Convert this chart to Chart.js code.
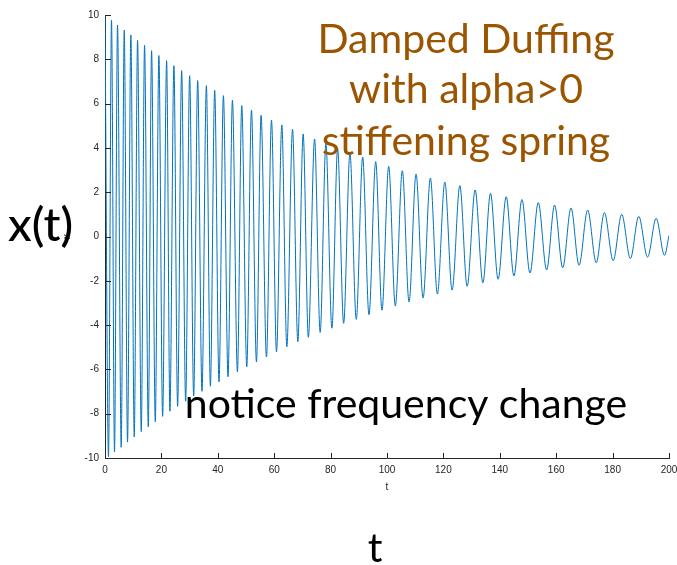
<!DOCTYPE html>
<html>
<head>
<meta charset="utf-8">
<script src="https://cdn.jsdelivr.net/npm/chart.js@4"></script>
<style>
  html, body { margin: 0; padding: 0; background: #fff; }
  canvas { display: block; }
</style>
</head>
<body>
<canvas id="chart" width="677" height="565"></canvas>
<script>
// --------------------------------------
// 1. Data
// --------------------------------------
// start / end of the trace
const startT = 0, startX = 10;
const endT = 200, endX = 0.04;

// local maxima (t, x)
const peakT = [2.31, 4.44, 6.82, 9.17, 11.55, 14.03, 16.52, 19.11, 21.85, 24.44,
  27.18, 30.02, 32.86, 35.95, 38.90, 41.99, 45.19, 48.49, 51.94, 55.35,
  59.04, 62.70, 66.50, 70.27, 74.32, 78.33, 82.49, 86.86, 91.37, 95.99,
  100.60, 105.44, 110.30, 115.38, 120.50, 125.83, 131.26, 136.70, 142.27, 147.85,
  153.64, 159.43, 165.26, 171.15, 177.09, 183.23, 189.27, 195.45];
const peakX = [9.77, 9.55, 9.32, 9.10, 8.86, 8.63, 8.39, 8.17, 7.94, 7.71,
  7.49, 7.26, 7.04, 6.81, 6.60, 6.36, 6.15, 5.91, 5.70, 5.47,
  5.26, 5.04, 4.84, 4.63, 4.40, 4.19, 3.98, 3.76, 3.58, 3.38,
  3.17, 2.97, 2.82, 2.64, 2.46, 2.30, 2.10, 1.95, 1.80, 1.67,
  1.53, 1.42, 1.29, 1.19, 1.08, 1.00, 0.91, 0.82];

// local minima (t, x)
const troughT = [1.24, 3.37, 5.75, 7.99, 10.37, 12.86, 15.35, 17.83, 20.43, 23.02,
  25.75, 28.60, 31.44, 34.39, 37.37, 40.43, 43.62, 46.96, 50.27, 53.71,
  57.26, 60.82, 64.48, 68.38, 72.11, 76.30, 80.46, 84.62, 89.10, 93.61,
  98.22, 102.95, 107.82, 112.79, 117.87, 123.09, 128.42, 134.0, 139.4, 145.0,
  150.7, 156.6, 162.3, 168.1, 174.2, 180.2, 186.3, 192.4, 198.4];
const troughX = [-9.94, -9.73, -9.52, -9.28, -9.05, -8.81, -8.59, -8.36, -8.12, -7.89,
  -7.67, -7.44, -7.20, -6.99, -6.76, -6.56, -6.33, -6.11, -5.88, -5.66,
  -5.44, -5.21, -4.98, -4.75, -4.55, -4.33, -4.14, -3.92, -3.74, -3.53,
  -3.33, -3.14, -2.96, -2.78, -2.60, -2.42, -2.25, -2.09, -1.93, -1.78,
  -1.65, -1.51, -1.41, -1.30, -1.18, -1.09, -1.00, -0.93, -0.85];

const xTicks = [0, 20, 40, 60, 80, 100, 120, 140, 160, 180, 200];
const yTicks = [-10, -8, -6, -4, -2, 0, 2, 4, 6, 8, 10];

const titleLines = ['Damped Duffing', 'with alpha>0', 'stiffening spring'];
const noteText = 'notice frequency change';

// --------------------------------------
// 2. Build the point list
// --------------------------------------
const points = [{ x: startT, y: startX }];
peakT.forEach((t, i) => points.push({ x: t, y: peakX[i] }));
troughT.forEach((t, i) => points.push({ x: t, y: troughX[i] }));
points.push({ x: endT, y: endX });
points.sort((a, b) => a.x - b.x);

const AXIS_COLOR = '#262626';
const BIG_FONT = '41px Lato, "Open Sans", sans-serif';

// --------------------------------------
// 3. Plugins: inward ticks and slide text
// --------------------------------------
const innerTicks = {
  id: 'innerTicks',
  afterDraw(chart) {
    const { ctx, chartArea: a, scales: { x, y } } = chart;
    ctx.save();
    ctx.strokeStyle = AXIS_COLOR;
    ctx.lineWidth = 1;
    ctx.beginPath();
    yTicks.forEach(v => {
      const py = Math.round(y.getPixelForValue(v)) + 0.5;
      ctx.moveTo(a.left, py);
      ctx.lineTo(a.left + 6, py);
    });
    xTicks.forEach(v => {
      const px = Math.round(x.getPixelForValue(v)) + 0.5;
      ctx.moveTo(px, a.bottom);
      ctx.lineTo(px, a.bottom - 5);
    });
    ctx.stroke();
    ctx.restore();
  }
};

const slideText = {
  id: 'slideText',
  afterDraw(chart) {
    const ctx = chart.ctx;
    ctx.save();
    ctx.font = BIG_FONT;
    ctx.textBaseline = 'alphabetic';

    ctx.fillStyle = '#9b5500';
    ctx.textAlign = 'center';
    ctx.fillText(titleLines[0], 466, 53);
    ctx.fillText(titleLines[1], 466, 103);
    ctx.fillText(titleLines[2], 466, 155);

    ctx.fillStyle = '#000';
    ctx.fillText(noteText, 406, 418);
    ctx.fillText('t', 375, 562);

    ctx.textAlign = 'left';
    ctx.font = '500 47px Lato, "Open Sans", sans-serif';
    ctx.fillText('x(t)', 8, 241);
    ctx.restore();
  }
};

// --------------------------------------
// 4. Chart
// --------------------------------------
const tickFont = { family: '"Liberation Sans", Arial, sans-serif', size: 10 };

new Chart(document.getElementById('chart').getContext('2d'), {
  type: 'line',
  data: {
    datasets: [{
      data: points,
      borderColor: '#0072bd',
      borderWidth: 1,
      pointRadius: 0,
      fill: false,
      cubicInterpolationMode: 'monotone'
    }]
  },
  options: {
    responsive: false,
    animation: false,
    events: [],
    layout: { padding: { left: 0, right: 8, top: 15, bottom: 67 } },
    plugins: { legend: { display: false }, tooltip: { enabled: false } },
    scales: {
      x: {
        type: 'linear',
        min: 0, max: 200,
        afterBuildTicks: s => { s.ticks = xTicks.map(v => ({ value: v })); },
        afterFit: s => { s.height = 40; s.paddingRight = 0; s.paddingLeft = 0; },
        ticks: { font: tickFont, color: AXIS_COLOR, padding: 6, maxRotation: 0 },
        grid: { drawOnChartArea: false, drawTicks: false },
        border: { color: AXIS_COLOR, width: 1 },
        title: { display: true, text: 't', font: tickFont, color: AXIS_COLOR, padding: { top: 0, bottom: 5 } }
      },
      y: {
        type: 'linear',
        min: -10, max: 10,
        afterBuildTicks: s => { s.ticks = yTicks.map(v => ({ value: v })); },
        afterFit: s => { s.width = 105; },
        ticks: { font: tickFont, color: AXIS_COLOR, padding: 6 },
        grid: { drawOnChartArea: false, drawTicks: false },
        border: { color: AXIS_COLOR, width: 1 },
        title: { display: true, text: 'x', font: tickFont, color: AXIS_COLOR, padding: { top: 61, bottom: 0 } }
      }
    }
  },
  plugins: [innerTicks, slideText]
});
</script>
</body>
</html>
